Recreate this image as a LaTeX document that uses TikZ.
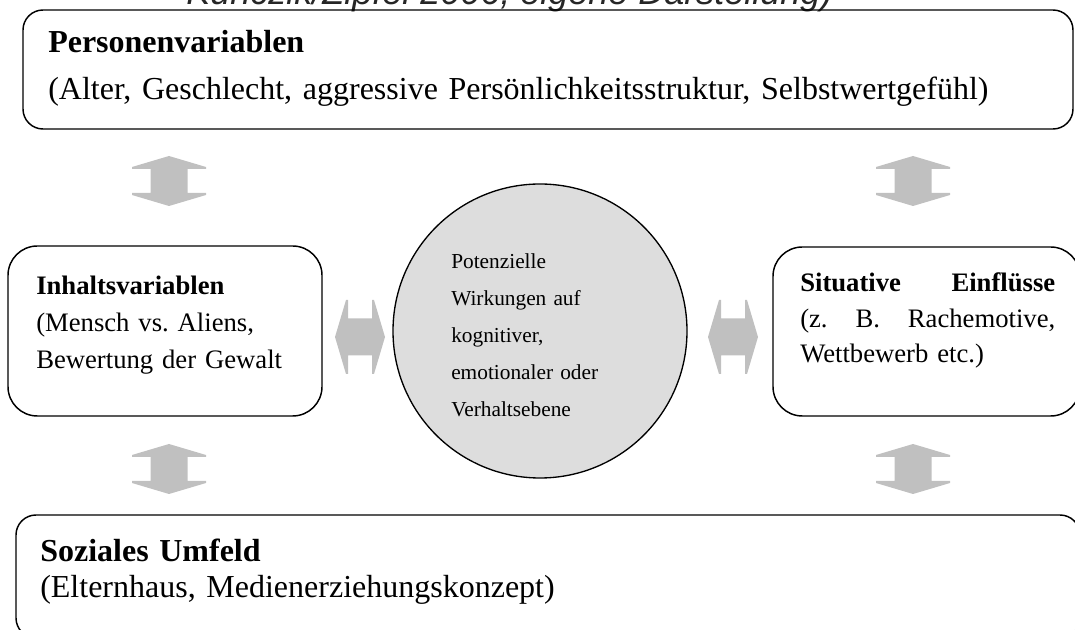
\documentclass[tikz,border=0pt]{standalone}
\usepackage{fontspec}
\setmainfont{Liberation Serif}
\newfontfamily\capfont{Liberation Sans}
\usetikzlibrary{fit}
\frenchspacing
\definecolor{arrowgray}{RGB}{192,192,192}
\definecolor{circlegray}{RGB}{221,221,221}
\tikzset{
  box/.style={draw=black, line width=1.1pt, inner sep=0pt, rounded corners=15pt},
  bigbox/.style={box, rounded corners=22pt},
  txt/.style={anchor=base west, inner sep=0pt, align=left},
  dblarrow/.pic={\fill[arrowgray] (0,-25) -- (37,-14) -- (37,-12) -- (18.5,-12) -- (18.5,12) -- (37,12) -- (37,14) -- (0,25) -- (-37,14) -- (-37,12) -- (-18.5,12) -- (-18.5,-12) -- (-37,-12) -- (-37,-14) -- cycle;}
}
\begin{document}
\begin{tikzpicture}[x=0.75pt,y=-0.75pt]
\useasboundingbox (0,0) rectangle (1075,630);
\clip (0,0) rectangle (1075,630);
% caption (cut off at top)
\node[txt, text=black!85, font=\capfont\itshape\fontsize{27}{30}\selectfont] (cap) at (186,5) {Kunczik/Zipfel 2006; eigene Darstellung)};
% top box
\coordinate (p1) at (23,10); \coordinate (p2) at (1073,129);
\node[box, fit=(p1)(p2)] (person) {};
\node[txt, text width=760pt, font=\fontsize{24}{35.25}\selectfont] (persontext) at (48,53) {\textbf{Personenvariablen}\\(Alter, Geschlecht, aggressive Persönlichkeitsstruktur, Selbstwertgefühl)};
% left box
\coordinate (i1) at (8,246); \coordinate (i2) at (322,416);
\node[bigbox, fit=(i1)(i2)] (inhalt) {};
\node[txt, text width=215pt, font=\fontsize{20}{27.75}\selectfont] (inhalttext) at (36,295) {\textbf{Inhaltsvariablen}\\(Mensch vs. Aliens,\\Bewertung der Gewalt};
% right box
\coordinate (s1) at (773,247); \coordinate (s2) at (1080,416);
\node[bigbox, fit=(s1)(s2)] (situativ) {};
\node[txt, text width=191.25pt, font=\fontsize{20}{26.6}\selectfont] (situativtext) at (800,292) {\textbf{Situative}\hfill\textbf{Einflüsse}\\(z.\hfill B.\hfill Rachemotive,\\Wettbewerb etc.)};
% bottom box
\coordinate (u1) at (16,515); \coordinate (u2) at (1080,638);
\node[box, fit=(u1)(u2)] (umfeld) {};
\node[txt, text width=700pt, font=\fontsize{24}{27}\selectfont] (umfeldtext) at (40,562) {\textbf{Soziales Umfeld}\\(Elternhaus, Medienerziehungskonzept)};
% centre circle
\node[circle, draw=black, line width=1pt, fill=circlegray, minimum size=220.5pt, inner sep=0pt] (wirkung) at (540,331) {};
\node[txt, text width=160pt, font=\fontsize{16}{27.75}\selectfont] (wirkungtext) at (451,269) {Potenzielle\\Wirkungen auf\\kognitiver,\\emotionaler oder\\Verhaltsebene};
% grey double arrows
\pic at (169,181) {dblarrow};
\pic at (913,181) {dblarrow};
\pic at (169,469) {dblarrow};
\pic at (913,469) {dblarrow};
\pic[rotate=90] at (360,337) {dblarrow};
\pic[rotate=90] at (733,337) {dblarrow};
\end{tikzpicture}
\end{document}
